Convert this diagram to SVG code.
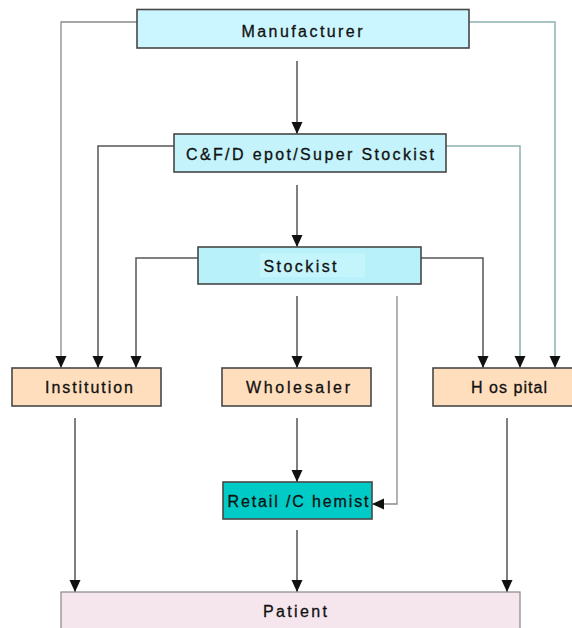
<svg xmlns="http://www.w3.org/2000/svg" width="572" height="628" viewBox="0 0 572 628">
<defs>
<style>
.box{stroke:#474747;stroke-width:1.6}
.t{font-family:"Liberation Sans",Arial,sans-serif;font-size:16px;fill:#111;stroke:#111;stroke-width:0.3;text-anchor:middle}
.c{fill:none;stroke:#555;stroke-width:1.5}
.cl{fill:none;stroke:#8a8a8a;stroke-width:1.3}
.ct{fill:none;stroke:#8fb0b0;stroke-width:1.5}
</style>
<marker id="ah" markerUnits="userSpaceOnUse" markerWidth="12" markerHeight="12" viewBox="0 0 12 12" refX="12" refY="6" orient="auto">
<path d="M0,0.5 L12,6 L0,11.5 Z" fill="#111"/>
</marker>
</defs>
<rect width="572" height="628" fill="#fff"/>
<g id="connectors">
<path class="cl" d="M137,22 H61 V368" marker-end="url(#ah)"/>
<path class="ct" d="M469,22 H555 V368" marker-end="url(#ah)"/>
<path class="c" d="M297,61 V134" marker-end="url(#ah)"/>
<path class="c" d="M174,146 H98 V368" marker-end="url(#ah)"/>
<path class="ct" d="M446,146 H520 V368" marker-end="url(#ah)"/>
<path class="c" d="M297,185 V247" marker-end="url(#ah)"/>
<path class="c" d="M198,258 H136 V368" marker-end="url(#ah)"/>
<path class="c" d="M421,258 H483 V368" marker-end="url(#ah)"/>
<path class="c" d="M297,296 V368" marker-end="url(#ah)"/>
<path class="cl" d="M397,296 V504 H372" marker-end="url(#ah)"/>
<path class="c" d="M75,418 V592" marker-end="url(#ah)"/>
<path class="c" d="M297,418 V482" marker-end="url(#ah)"/>
<path class="c" d="M297,530 V592" marker-end="url(#ah)"/>
<path class="c" d="M507,418 V592" marker-end="url(#ah)"/>
</g>
<g id="manufacturer">
<rect class="box" x="137" y="9.5" width="332" height="38.5" fill="#ccf6ff"/>
<text class="t" x="302" y="37" textLength="121" lengthAdjust="spacing">Manufacturer</text>
</g>
<g id="cf-depot">
<rect class="box" x="174" y="134" width="272" height="38" fill="#c4f3fb"/>
<text class="t" x="310" y="159.5" textLength="248" lengthAdjust="spacing">C&amp;F/D epot/Super Stockist</text>
</g>
<g id="stockist">
<rect class="box" x="198" y="247" width="223" height="37" fill="#b9f1fb"/>
<rect x="260" y="253" width="105" height="24" fill="#c4f4fc"/>
<text class="t" x="300" y="271.5" textLength="73" lengthAdjust="spacing">Stockist</text>
</g>
<g id="institution">
<rect class="box" x="12" y="368" width="149" height="38" fill="#ffdebd"/>
<text class="t" x="89" y="393" textLength="88" lengthAdjust="spacing">Institution</text>
</g>
<g id="wholesaler">
<rect class="box" x="222" y="368" width="149" height="38" fill="#ffdebd"/>
<text class="t" x="298" y="393" textLength="104" lengthAdjust="spacing">Wholesaler</text>
</g>
<g id="hospital">
<rect class="box" x="433" y="368" width="150" height="38" fill="#ffdebd"/>
<text class="t" x="509" y="393" textLength="76" lengthAdjust="spacing">H os pital</text>
</g>
<g id="retail">
<rect class="box" x="223" y="482" width="149" height="37" fill="#00cbc6"/>
<text class="t" x="298" y="507" textLength="141" lengthAdjust="spacing">Retail /C hemist</text>
</g>
<g id="patient">
<rect x="61" y="592" width="459" height="40" fill="#f5e6ee" stroke="#888" stroke-width="1.2"/>
<text class="t" x="295" y="617" textLength="64" lengthAdjust="spacing">Patient</text>
</g>
</svg>
